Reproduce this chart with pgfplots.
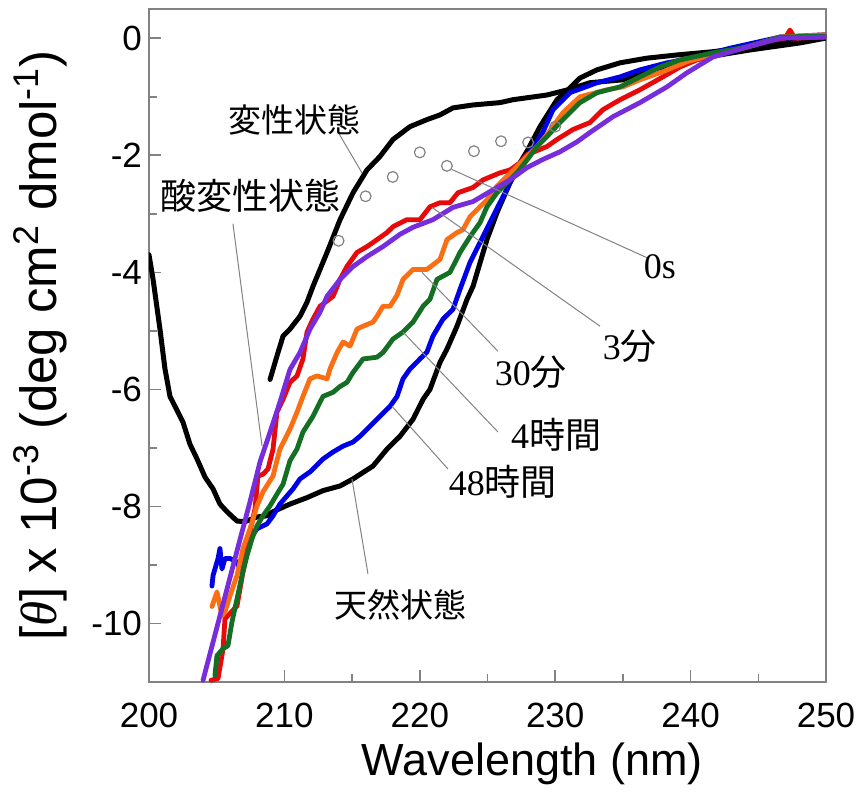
\documentclass[border=0pt]{standalone}
\usepackage{pgfplots}
\pgfplotsset{compat=1.18}
\usepackage{fontspec}
\setmainfont{Liberation Sans}
\newfontfamily\cjk{Noto Sans CJK JP}
\newfontfamily\serifnum{Liberation Serif}
\definecolor{cred}{RGB}{230,10,10}
\definecolor{cpurple}{RGB}{120,45,220}
\definecolor{corange}{RGB}{250,110,20}
\definecolor{cgreen}{RGB}{20,110,35}
\definecolor{cblue}{RGB}{0,0,230}
\definecolor{axgray}{RGB}{130,130,130}
\begin{document}
\begin{tikzpicture}
\useasboundingbox (-74.5pt,-57pt) rectangle (355.5pt,341pt);
\begin{axis}[
  at={(0,0)}, anchor=south west, scale only axis,
  width=338.5pt, height=336.5pt,
  xmin=200, xmax=250, ymin=-11, ymax=0.5,
  xtick={200,210,...,250}, minor xtick={205,215,...,245},
  ytick={-10,-8,...,0}, minor ytick={-11,-9,...,-1},
  tick align=inside, xtick pos=bottom, ytick pos=left,
  major tick length=6pt, minor tick length=4pt,
  axis line style={axgray, line width=0.8pt},
  every tick/.style={axgray, line width=0.8pt},
  tick label style={font=\fontsize{17.5}{20}\selectfont},
  /pgf/number format/assume math mode=true,
  xticklabel style={yshift=-7pt},
  xlabel={Wavelength (nm)},
  xlabel style={font=\fontsize{22.5}{26}\selectfont, at={(axis description cs:0.566,-0.122)}, anchor=center},
  ylabel={[{\serifnum\itshape θ}] x 10\textsuperscript{-3} (deg cm\textsuperscript{2} dmol\textsuperscript{-1})},
  ylabel style={font=\fontsize{25.5}{28}\selectfont, at={(axis description cs:-0.160,0.5)}, anchor=center},
  every axis plot/.append style={line join=round, line cap=round},
  clip=true,
]
% native (black)
\addplot[black, line width=2.5pt] coordinates {
(200.0,-3.70) (200.30,-4.12) (200.81,-4.97) (201.18,-5.65) (201.55,-6.12) (202.51,-6.56)
(203.03,-6.94) (203.55,-7.19) (204.14,-7.50) (204.73,-7.70) (205.24,-7.96) (205.76,-8.09)
(206.50,-8.25) (207.09,-8.26) (207.98,-8.18) (208.71,-8.16) (209.16,-8.09) (210.41,-7.96)
(211.67,-7.85) (212.85,-7.73) (214.11,-7.65) (215.07,-7.53) (216.54,-7.31) (217.58,-7.02)
(218.54,-6.80) (219.50,-6.51) (220.24,-6.17) (220.75,-6.00) (221.49,-5.54) (222.01,-5.31)
(222.75,-4.92) (223.49,-4.46) (223.93,-4.24) (224.96,-3.44) (225.70,-2.98) (226.66,-2.47)
(227.40,-2.13) (227.99,-1.90) (228.88,-1.51) (230.13,-1.05) (231.09,-0.85) (231.83,-0.68)
(233.09,-0.54) (234.79,-0.42) (236.78,-0.34) (239.22,-0.28) (241.65,-0.23) (243.65,-0.17)
(245.86,-0.08) (247.86,0.0) (249.93,0.04)
};
% denatured (black)
\addplot[black, line width=2.5pt] coordinates {
(208.94,-5.83) (209.45,-5.43) (209.90,-5.09) (210.41,-4.97) (211.15,-4.75) (211.67,-4.51)
(212.11,-4.24) (212.63,-3.95) (213.15,-3.66) (214.11,-3.10) (215.07,-2.64) (216.10,-2.25)
(217.06,-2.02) (218.02,-1.73) (219.28,-1.51) (220.53,-1.39) (221.49,-1.31) (222.45,-1.19)
(223.93,-1.14) (225.92,-1.10) (226.88,-1.05) (229.39,-0.97) (230.95,-0.88) (232.57,-0.76)
(235.0,-0.71) (236.26,-0.59) (238.5,-0.46) (240.70,-0.34) (244.39,-0.20) (248.08,-0.08) (249.93,0.0)
};
% 48 h (blue)
\addplot[cblue, line width=2.4pt] coordinates {
(204.65,-9.36) (204.73,-9.18) (205.10,-8.89) (205.24,-8.72) (205.39,-9.07) (205.61,-8.89)
(205.98,-8.89) (206.50,-8.95) (206.72,-9.07) (206.94,-8.84) (207.31,-8.60) (207.61,-8.50)
(207.98,-8.38) (208.71,-8.30) (209.16,-8.16) (209.67,-7.96) (210.19,-7.82) (210.64,-7.70)
(211.15,-7.53) (211.89,-7.41) (212.85,-7.19) (213.59,-7.07) (214.33,-6.97) (215.07,-6.90)
(215.58,-6.80) (216.32,-6.63) (217.06,-6.46) (217.80,-6.29) (218.32,-6.12) (218.76,-5.82)
(219.28,-5.65) (220.01,-5.48) (220.53,-5.36) (220.97,-5.09) (221.71,-4.80) (222.45,-4.63)
(222.97,-4.29) (223.71,-3.83) (224.45,-3.49) (225.18,-3.15) (225.92,-2.81) (226.66,-2.47)
(227.40,-2.16) (228.36,-1.87) (229.10,-1.60) (229.84,-1.22) (231.09,-0.93) (233.09,-0.76)
(234.79,-0.66) (236.26,-0.54) (238.26,-0.42) (240.47,-0.32) (242.91,-0.17) (246.60,0.02) (249.93,0.06)
};
% 3 min (red)
\addplot[cred, line width=2.4pt] coordinates {
(204.58,-10.97) (205.10,-10.94) (205.47,-10.43) (205.61,-9.92) (206.50,-9.70) (206.94,-9.12)
(207.46,-8.43) (207.83,-8.04) (208.05,-7.48) (208.42,-7.45) (208.79,-7.36) (209.16,-7.02)
(209.45,-6.39) (209.90,-6.17) (210.41,-5.88) (210.93,-5.77) (211.37,-5.48) (211.67,-5.02)
(212.11,-4.80) (212.63,-4.58) (213.59,-4.41) (214.11,-4.12) (214.62,-3.90) (215.36,-3.66)
(216.10,-3.56) (216.54,-3.49) (217.58,-3.32) (218.02,-3.22) (219.05,-3.10) (220.01,-3.10)
(220.75,-2.88) (221.49,-2.81) (222.23,-2.81) (222.82,-2.64) (223.93,-2.55) (224.67,-2.42)
(225.92,-2.30) (226.66,-2.25) (227.40,-2.13) (227.92,-1.99) (229.39,-1.85) (230.13,-1.73)
(231.31,-1.56) (232.57,-1.44) (233.53,-1.22) (234.79,-1.05) (236.26,-0.88) (237.96,-0.66)
(239.22,-0.49) (240.47,-0.37) (242.17,-0.28) (244.17,-0.15) (246.09,-0.03) (246.97,0.0)
(247.34,0.14) (247.70,0.0) (249.93,0.02)
};
% 30 min (orange)
\addplot[corange, line width=2.4pt] coordinates {
(204.65,-9.71) (205.02,-9.46) (205.39,-9.87) (205.61,-9.80) (205.98,-9.53) (206.50,-9.18)
(206.94,-8.72) (207.46,-8.38) (207.98,-7.99) (208.42,-7.75) (209.16,-7.48) (209.67,-7.02)
(210.41,-6.68) (210.93,-6.39) (211.37,-6.12) (211.89,-5.82) (212.41,-5.77) (213.15,-5.82)
(213.37,-5.65) (213.89,-5.37) (214.33,-5.19) (214.85,-5.26) (215.36,-4.97) (215.81,-4.92)
(216.54,-4.85) (216.84,-4.75) (217.28,-4.58) (217.80,-4.58) (218.32,-4.39) (218.76,-4.12)
(219.50,-3.95) (220.53,-3.95) (221.49,-3.78) (222.01,-3.44) (222.75,-3.32) (223.19,-3.27)
(223.71,-3.05) (224.45,-2.88) (224.96,-2.76) (225.70,-2.53) (226.44,-2.36) (227.18,-2.19)
(227.92,-2.02) (228.66,-1.85) (229.39,-1.65) (230.58,-1.27) (231.83,-1.00) (233.83,-0.88)
(235.01,-0.83) (236.26,-0.71) (237.96,-0.57) (239.73,-0.40) (241.65,-0.28) (244.17,-0.15)
(246.60,0.02) (249.93,0.06)
};
% 4 h (green)
\addplot[cgreen, line width=2.4pt] coordinates {
(204.87,-10.89) (205.02,-10.55) (205.47,-10.43) (205.83,-10.38) (206.13,-9.97) (206.50,-9.58)
(206.87,-9.18) (207.24,-8.84) (207.61,-8.55) (207.98,-8.33) (208.42,-8.16) (208.94,-7.99)
(209.45,-7.79) (209.90,-7.62) (210.41,-7.22) (210.93,-7.02) (211.37,-6.73) (212.11,-6.46)
(212.85,-6.12) (213.59,-6.05) (214.11,-5.95) (214.62,-5.88) (215.07,-5.71) (215.81,-5.48)
(216.84,-5.45) (217.28,-5.37) (218.02,-5.14) (218.76,-5.02) (219.50,-4.85) (220.24,-4.58)
(220.75,-4.46) (221.27,-4.12) (222.23,-4.00) (222.97,-3.66) (223.71,-3.39) (224.45,-3.15)
(224.96,-2.88) (225.70,-2.64) (226.44,-2.47) (227.18,-2.30) (227.92,-2.08) (228.66,-1.85)
(229.39,-1.68) (230.35,-1.44) (231.83,-1.10) (233.09,-0.93) (234.79,-0.83) (236.26,-0.66)
(237.74,-0.49) (239.22,-0.37) (241.65,-0.25) (244.17,-0.15) (246.60,0.02) (249.93,0.04)
};
% acid denatured (purple)
\addplot[cpurple, line width=2.4pt] coordinates {
(203.99,-10.97) (205.24,-9.87) (206.50,-8.76) (207.46,-7.92) (208.20,-7.24) (208.94,-6.73)
(209.67,-6.22) (210.41,-5.66) (211.15,-5.37) (211.89,-4.97) (212.63,-4.68) (213.15,-4.41)
(214.11,-4.12) (215.07,-3.90) (216.10,-3.73) (217.28,-3.56) (218.54,-3.35) (219.50,-3.23)
(220.97,-3.10) (222.45,-2.89) (223.93,-2.79) (225.41,-2.59) (226.66,-2.42) (227.92,-2.21)
(229.10,-2.07) (230.35,-1.94) (231.61,-1.77) (232.57,-1.61) (234.27,-1.34) (236.26,-1.10)
(238.26,-0.83) (239.73,-0.59) (241.65,-0.32) (244.17,-0.15) (246.60,0.0) (249.93,0.02)
};
% 0 s (open circles)
\addplot[only marks, mark=o, mark size=2.7pt, mark options={axgray, line width=0.6pt, fill=none}] coordinates {
(214,-3.46) (216,-2.70) (218,-2.37) (220,-1.95) (222,-2.18) (224,-1.93) (226,-1.76) (228,-1.78) (230,-1.51)
};
% leader lines
\draw[axgray, line width=0.5pt] (axis cs:214.03,-1.63) -- (axis cs:215.73,-2.30);
\draw[axgray, line width=0.5pt] (axis cs:206.20,-3.17) -- (axis cs:208.35,-6.97);
\draw[axgray, line width=0.5pt] (axis cs:222.35,-2.24) -- (axis cs:236.78,-3.75);
\draw[axgray, line width=0.5pt] (axis cs:220.90,-2.89) -- (axis cs:233.31,-4.92);
\draw[axgray, line width=0.5pt] (axis cs:220.16,-4.00) -- (axis cs:225.78,-5.35);
\draw[axgray, line width=0.5pt] (axis cs:218.76,-5.02) -- (axis cs:225.78,-6.73);
\draw[axgray, line width=0.5pt] (axis cs:217.95,-6.29) -- (axis cs:222.08,-7.36);
\draw[axgray, line width=0.5pt] (axis cs:214.99,-7.53) -- (axis cs:216.17,-9.15);
% labels
\node[font=\cjk\fontsize{16.5}{18}\selectfont] at (axis cs:210.78,-1.39) {変性状態};
\node[font=\cjk\fontsize{18}{20}\selectfont] at (axis cs:207.46,-2.69) {酸変性状態};
\node[font=\serifnum\fontsize{18}{20}\selectfont] at (axis cs:237.74,-3.90) {0s};
\node[font=\fontsize{18}{20}\selectfont] at (axis cs:235.52,-5.26) {{\serifnum 3}{\cjk 分}};
\node[font=\fontsize{18}{20}\selectfont] at (axis cs:228.21,-5.71) {{\serifnum 30}{\cjk 分}};
\node[font=\fontsize{18}{20}\selectfont] at (axis cs:230.06,-6.78) {{\serifnum 4}{\cjk 時間}};
\node[font=\fontsize{18}{20}\selectfont] at (axis cs:226.14,-7.58) {{\serifnum 48}{\cjk 時間}};
\node[font=\cjk\fontsize{16.5}{18}\selectfont] at (axis cs:218.54,-9.68) {天然状態};
\end{axis}
\end{tikzpicture}
\end{document}
